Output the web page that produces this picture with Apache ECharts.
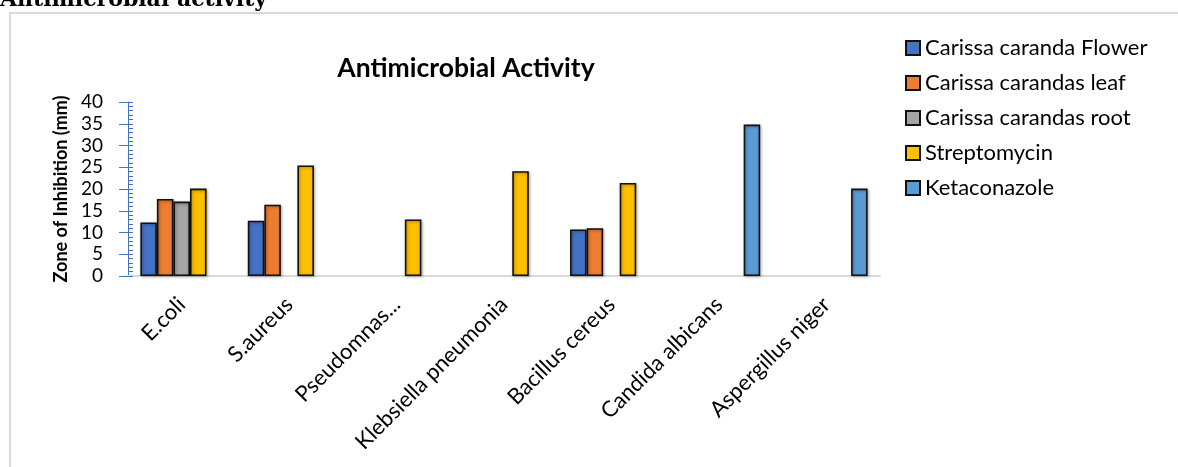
<!DOCTYPE html>
<html>
<head>
<meta charset="utf-8">
<script src="https://cdn.jsdelivr.net/npm/echarts@6/dist/echarts.min.js"></script>
<style>
  html, body { margin: 0; padding: 0; background: #ffffff; }
  #chart { width: 1178px; height: 467px; }
</style>
</head>
<body>
<div id="chart"></div>
<script>
// Test organisms (x-axis categories)
const organisms = [
  'E.coli', 'S.aureus', 'Pseudomnas...', 'Klebsiella pneumonia',
  'Bacillus cereus', 'Candida albicans', 'Aspergillus niger'
];

// Zone of inhibition (mm); null = no zone recorded
const flower       = [12.3, 12.7, null, null, 10.7, null, null];
const leaf         = [17.7, 16.4, null, null, 11.0, null, null];
const root         = [17.1, null, null, null, null, null, null];
const streptomycin = [20.1, 25.4, 13.0, 24.1, 21.4, null, null];
const ketaconazole = [null, null, null, null, null, 34.8, 20.1];

const seriesNames = [
  'Carissa caranda Flower', 'Carissa carandas leaf', 'Carissa carandas root',
  'Streptomycin', 'Ketaconazole'
];
const seriesColors = ['#4472C4', '#ED7D31', '#A5A5A5', '#FFC000', '#5B9BD5'];
const seriesData = [flower, leaf, root, streptomycin, ketaconazole];

const yTicks = [0, 5, 10, 15, 20, 25, 30, 35, 40];

const FONT = 'Lato, "Open Sans", sans-serif';

const chart = echarts.init(document.getElementById('chart'), null, { renderer: 'canvas' });

const barSeries = seriesNames.map((name, i) => ({
  name: name,
  type: 'bar',
  data: seriesData[i],
  barGap: '0%',
  barCategoryGap: '23%',
  itemStyle: {
    color: seriesColors[i],
    borderColor: '#111111',
    borderWidth: 1.6,
    shadowColor: 'rgba(0,0,0,0.35)',
    shadowBlur: 3,
    shadowOffsetX: 1,
    shadowOffsetY: 1
  }
}));

chart.setOption({
  animation: false,
  backgroundColor: '#ffffff',
  textStyle: { fontFamily: FONT },
  title: {
    text: 'Antimicrobial Activity',
    left: 461,
    textAlign: 'center',
    top: 50,
    textStyle: { fontFamily: FONT, fontSize: 26.5, fontWeight: 'bold', color: '#000000' }
  },
  legend: {
    orient: 'vertical',
    left: 905,
    top: 37,
    padding: 0,
    itemWidth: 14,
    itemHeight: 14,
    itemGap: 13,
    icon: 'rect',
    textStyle: { fontFamily: FONT, fontSize: 22, color: '#000000' },
    data: seriesNames
  },
  grid: { left: 128, right: 298, top: 102, bottom: 191 },
  xAxis: {
    type: 'category',
    data: organisms,
    axisLine: { lineStyle: { color: '#d9d9d9', width: 2 } },
    axisTick: { show: false },
    axisLabel: {
      rotate: 45,
      interval: 0,
      margin: 25,
      padding: [40, 0, 0, 0],
      fontFamily: FONT,
      fontSize: 22,
      color: '#000000'
    }
  },
  yAxis: [
    {
      type: 'value',
      min: 0,
      max: 40,
      interval: 5,
      name: 'Zone of Inhibition (mm)',
      nameLocation: 'middle',
      nameGap: 57,
      nameTextStyle: { fontFamily: FONT, fontSize: 18, fontWeight: 'bold', color: '#000000' },
      axisLine: { show: true, lineStyle: { color: '#4472C4', width: 1 } },
      axisTick: { show: true, length: 9, lineStyle: { color: '#4472C4', width: 1 } },
      axisLabel: {
        margin: 25,
        fontFamily: FONT,
        fontSize: 19,
        color: '#000000',
        formatter: v => (yTicks.indexOf(v) >= 0 ? String(v) : '')
      },
      splitLine: { show: false }
    },
    {
      type: 'value',
      position: 'left',
      min: 0,
      max: 40,
      interval: 1,
      axisLine: { show: false },
      axisTick: { show: true, inside: true, length: 5, lineStyle: { color: '#4472C4', width: 1 } },
      axisLabel: { show: false },
      splitLine: { show: false }
    }
  ],
  graphic: [
    {
      type: 'rect',
      shape: { x: 10, y: 13, width: 1180, height: 470 },
      style: { fill: null, stroke: '#d9d9d9', lineWidth: 2 },
      silent: true,
      z: -1
    },
    {
      type: 'text',
      left: 0,
      top: -11,
      style: {
        text: 'Antimicrobial activity',
        font: 'bold 22px "DejaVu Serif", "Liberation Serif", serif',
        fill: '#000000'
      }
    }
  ],
  series: barSeries
});
</script>
</body>
</html>
